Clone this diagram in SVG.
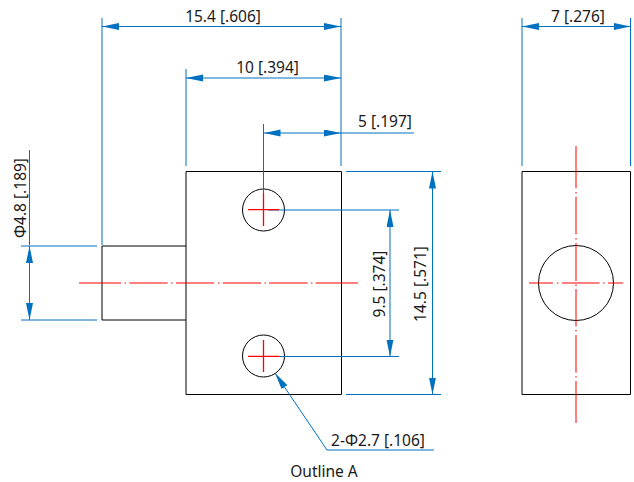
<svg xmlns="http://www.w3.org/2000/svg" width="634" height="482" viewBox="0 0 634 482">
<defs>
<marker id="a" viewBox="0 0 17 8" refX="17" refY="3.5" markerWidth="17" markerHeight="8" markerUnits="userSpaceOnUse" orient="auto-start-reverse"><path d="M0 0L17 3.500L0 7Z" fill="#0070c0"/></marker>
</defs>
<style>
text{font-family:"Noto Sans","Open Sans",sans-serif;font-size:15.500px;fill:#1a1a1a}
.o{fill:none;stroke:#000;stroke-width:1}
.d{fill:none;stroke:#0070c0;stroke-width:1}
.c{fill:none;stroke:#ff0000;stroke-width:1}
.x{fill:none;stroke:#ff0000;stroke-width:1.300}
</style>
<rect width="634" height="482" fill="#fff"/>
<g id="outline-front">
<path class="o" d="M186 171.500H341.500V394.500H186ZM186 246H102V320H186"/>
<circle class="o" cx="263.500" cy="210" r="21"/>
<circle class="o" cx="263.500" cy="356" r="21"/>
</g>
<g id="outline-side">
<path class="o" d="M522 171.500H630.500V394.500H522Z"/>
<circle class="o" cx="576" cy="283" r="37.500"/>
</g>
<g id="connectors">
<path class="d" d="M102 18V245M186 69V166M263.500 124V193M341 18V166M522 18V166M630.500 18V166"/>
<path class="d" d="M102 26.500H341" marker-start="url(#a)" marker-end="url(#a)"/>
<path class="d" d="M186 78H341" marker-start="url(#a)" marker-end="url(#a)"/>
<path class="d" d="M263.500 133H341" marker-start="url(#a)" marker-end="url(#a)"/>
<path class="d" d="M341 133H414"/>
<path class="d" d="M522 26.500H630.500" marker-start="url(#a)" marker-end="url(#a)"/>
<path class="d" d="M346 171.500H441M346 394.500H441M268 210H399M268 356.500H399M21 246H97M21 320H97M29.500 150V245"/>
<path class="d" d="M432.500 171.500V394.500" marker-start="url(#a)" marker-end="url(#a)"/>
<path class="d" d="M390 210V356.500" marker-start="url(#a)" marker-end="url(#a)"/>
<path class="d" d="M29.500 246V320" marker-start="url(#a)" marker-end="url(#a)"/>
<path class="d" d="M327 450H434M327 450L275 373" marker-end="url(#a)"/>
</g>
<g id="centerlines">
<path class="x" d="M248 209.600H279M263.500 193V226M248 356.400H279M263.500 340V372"/>
<path class="c" d="M79 283H121M124.500 283H126M129.300 283H167.700M171 283H172.500M176 283H214M218 283H219.500M222.700 283H261M264.500 283H266M269 283H307.500M311 283H312.500M315.600 283H358"/>
<path class="c" d="M529 283H553M557 283H558.500M562 283H599.500M603 283H604.500M608 283H623"/>
<path class="c" d="M576 146V188.300M576 192V193.500M576 196.700V234.500M576 238V239.500M576 243V281M576 284.500V286M576 289V326.500M576 330V331.500M576 335V372.700M576 376V377.500M576 381V423"/>
</g>
<g id="labels">
<text x="223" y="22" text-anchor="middle">15.4 [.606]</text>
<text x="267.500" y="73" text-anchor="middle">10 [.394]</text>
<text x="385" y="127" text-anchor="middle">5 [.197]</text>
<text x="578" y="22" text-anchor="middle">7 [.276]</text>
<text x="26" y="198" text-anchor="middle" transform="rotate(-90 26 198)">Φ4.8 [.189]</text>
<text x="385" y="284" text-anchor="middle" transform="rotate(-90 385 284)">9.5 [.374]</text>
<text x="426" y="284" text-anchor="middle" transform="rotate(-90 426 284)">14.5 [.571]</text>
<text x="378" y="446" text-anchor="middle">2-Φ2.7 [.106]</text>
<text x="324" y="477" text-anchor="middle">Outline A</text>
</g>
</svg>
